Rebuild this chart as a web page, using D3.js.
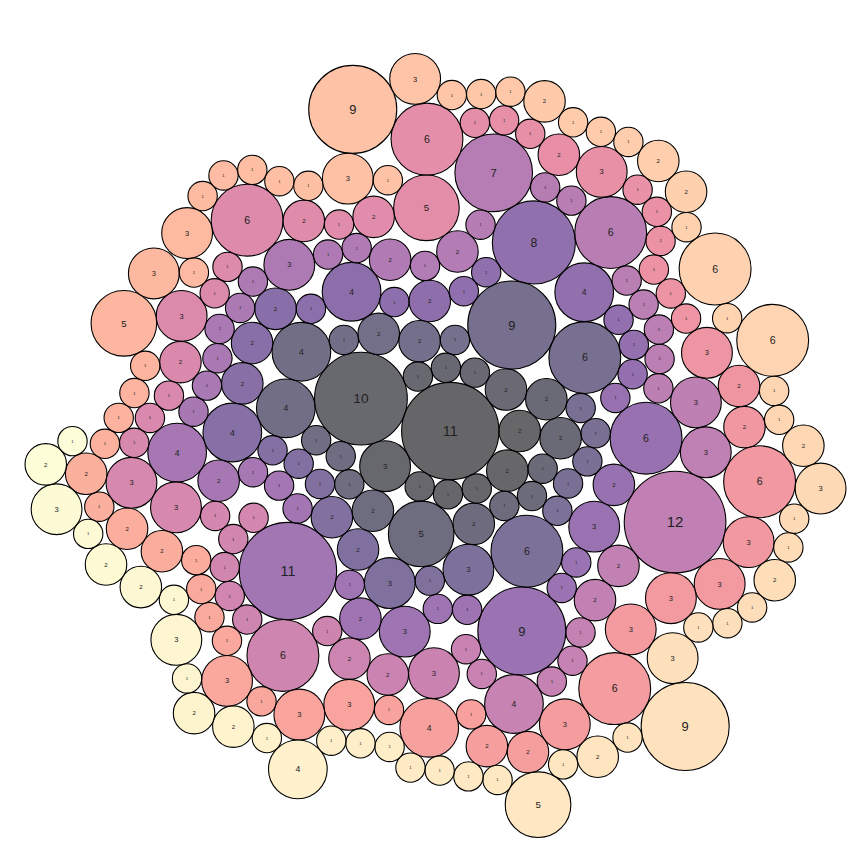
<!DOCTYPE html>
<html>
<head>
<meta charset="utf-8">
<script src="https://cdn.jsdelivr.net/npm/d3@7"></script>
<style>
  body { margin: 0; background: #fff; }
  text { font-family: "Liberation Sans", Arial, sans-serif; }
</style>
</head>
<body>
<svg width="864" height="865"></svg>
<script>
// bubble values, in the order they were packed (first = centre)
var values = [
  11,2,2,1,1,1,3,10,1,1, 1,2,2,2,1,1,1,2,5,2, 1,1,1,4,4,1,2,2,1,9, 6,1,1,1,1,1,6,3,1,3, 2,2,1,1,1,4,2,2,2,1,
  4,1,2,1,1,8,4,1,1,1, 1,6,2,3,1,1,9,1,1,3, 2,1,11,1,1,1,2,4,1,1, 1,1,1,1,3,1,1,2,1,2, 1,7,1,1,6,1,1,1,1,1,
  3,3,12,2,2,1,1,1,4,1, 1,3,2,2,1,6,1,1,1,1, 1,1,3,3,1,1,1,2,3,1, 1,6,2,1,2,5,6,1,1,1, 2,3,1,1,1,1,1,1,3,2,
  2,6,3,3,3,3,6,3,2,2, 1,4,1,3,3,1,3,1,1,1, 1,2,2,1,2,1,1,1,1,5, 3,1,3,1,1,1,1,1,3,1, 9,3,1,1,1,2,1,1,1,2,
  2,1,6,1,6,1,1,2,3,1, 1,2,1,1,1,3,9,1,2,1, 5,1,1,1,1,1,1,1,4,1, 2,2,1,3,1,2,2,1,3,2, 1
];

var svg = d3.select("svg");
var width = +svg.attr("width");
var height = +svg.attr("height");
// plot area the bubbles are fitted into
var box = {left: 25, right: 846, top: 37, bottom: 854};

// front-chain packing, placing each circle next to the chain in data order
function place(a, b, c) {
  var db = a.r + c.r, dx = b.x - a.x, dy = b.y - a.y;
  if (db && (dx || dy)) {
    var da = b.r + c.r, dc = dx * dx + dy * dy;
    da *= da; db *= db;
    var x = 0.5 + (db - da) / (2 * dc),
        y = Math.sqrt(Math.max(0, 2 * da * (db + dc) - (db -= dc) * db - da * da)) / (2 * dc);
    c.x = a.x + x * dx + y * dy;
    c.y = a.y + x * dy - y * dx;
  } else {
    c.x = a.x + db;
    c.y = a.y;
  }
}

function intersects(a, b) {
  var dx = b.x - a.x, dy = b.y - a.y, dr = a.r + b.r;
  return 0.999 * dr * dr > dx * dx + dy * dy;
}

function insert(a, b) {
  var c = a.next;
  a.next = b; b.prev = a; b.next = c; c.prev = b;
}

function packChain(nodes) {
  var n = nodes.length, a, b, c, i, j, k, s1, s2, hit;
  nodes.forEach(function(d) { d.next = d.prev = d; });
  a = nodes[0]; a.x = -a.r; a.y = 0;
  if (n < 2) return;
  b = nodes[1]; b.x = b.r; b.y = 0;
  if (n < 3) return;
  c = nodes[2];
  place(a, b, c);
  insert(a, c);
  a.prev = c;
  insert(c, b);
  b = a.next;
  for (i = 3; i < n; i++) {
    c = nodes[i];
    place(a, b, c);
    hit = false; s1 = 1; s2 = 1;
    for (j = b.next; j !== b; j = j.next, s1++) {
      if (intersects(j, c)) { hit = true; break; }
    }
    if (hit) {
      for (k = a.prev; k !== j.prev; k = k.prev, s2++) {
        if (intersects(k, c)) break;
      }
      if (s1 < s2 || (s1 === s2 && b.r < a.r)) { b = j; a.next = b; b.prev = a; }
      else { a = k; a.next = b; b.prev = a; }
      i--;
    } else {
      insert(a, c);
      b = c;
    }
  }
}

var nodes = values.map(function(v, i) {
  return {value: v, index: i, r: Math.sqrt(v)};
});
packChain(nodes);
nodes.forEach(function(d) { d.y = -d.y; });

// fit the packed bubbles into the plot box
var x0 = d3.min(nodes, function(d) { return d.x - d.r; }),
    x1 = d3.max(nodes, function(d) { return d.x + d.r; }),
    y0 = d3.min(nodes, function(d) { return d.y - d.r; }),
    y1 = d3.max(nodes, function(d) { return d.y + d.r; });
var k = Math.min((box.right - box.left) / (x1 - x0), (box.bottom - box.top) / (y1 - y0));
var x = d3.scaleLinear().domain([(x0 + x1) / 2, (x0 + x1) / 2 + 1])
  .range([(box.left + box.right) / 2, (box.left + box.right) / 2 + k]);
var y = d3.scaleLinear().domain([(y0 + y1) / 2, (y0 + y1) / 2 + 1])
  .range([(box.top + box.bottom) / 2, (box.top + box.bottom) / 2 + k]);

var color = d3.scaleSequential(d3.interpolateMagma).domain([0, nodes.length - 1]);

var node = svg.append("g").selectAll("g")
  .data(nodes)
  .enter().append("g")
  .attr("transform", function(d) {
    return "translate(" + x(d.x) + "," + y(d.y) + ")";
  });

node.append("circle")
  .attr("r", function(d) { return d.r * k; })
  .attr("fill", function(d) { return color(d.index); })
  .attr("fill-opacity", 0.6)
  .attr("stroke", "#000")
  .attr("stroke-width", 1.1);

node.append("text")
  .attr("text-anchor", "middle")
  .attr("dy", "0.35em")
  .style("font-size", function(d) { return (d.r * k / 3.4).toFixed(1) + "px"; })
  .style("fill", "#222")
  .text(function(d) { return d.value; });
</script>
</body>
</html>
